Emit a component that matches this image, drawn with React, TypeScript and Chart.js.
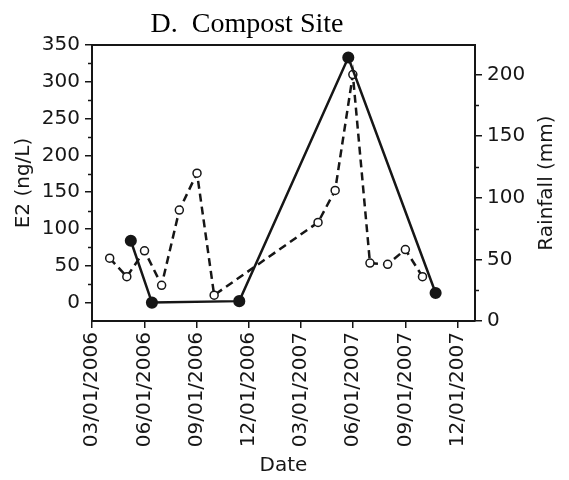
import React, { useEffect, useRef } from 'react';
import { Chart, registerables } from 'chart.js';

Chart.register(...registerables);

// E2 concentration samples (ng/L)
const e2Dates = ['05/08/2006', '06/14/2006', '11/14/2006', '05/24/2007', '10/24/2007'];
const e2Values = [84, 0, 2, 333, 13];

// Monthly rainfall totals (mm)
const rainDates = [
  '04/01/2006', '05/01/2006', '06/01/2006', '07/01/2006', '08/01/2006', '09/01/2006', '10/01/2006',
  '04/01/2007', '05/01/2007', '06/01/2007', '07/01/2007', '08/01/2007', '09/01/2007', '10/01/2007',
];
const rainValues = [51, 36, 57, 29, 90, 120, 21, 80, 106, 200, 47, 46, 58, 36];

// Axis ticks and ranges
const dateTicks = [
  '03/01/2006', '06/01/2006', '09/01/2006', '12/01/2006',
  '03/01/2007', '06/01/2007', '09/01/2007', '12/01/2007',
];
const dateStart = '03/01/2006';
const dateEnd = '01/01/2008';
const e2Ticks = [0, 50, 100, 150, 200, 250, 300, 350];
const e2Min = -25;
const e2Max = 350;
const rainTicks = [0, 50, 100, 150, 200];
const rainMax = 224;

const titleText = 'D.  Compost Site';
const rainTitle = 'Rainfall (mm)';

const INK = '#161616';
const FONT = "'DejaVu Sans', sans-serif";
const FONT_SIZE = 20;

const toDay = (s: string) => {
  const [m, d, y] = s.split('/').map(Number);
  return Date.UTC(y, m - 1, d) / 86400000;
};

const decorations = {
  id: 'decorations',
  afterDraw(chart: any) {
    const { ctx, chartArea: a, scales } = chart;
    ctx.save();
    // top edge of the frame
    ctx.strokeStyle = INK;
    ctx.lineWidth = 2;
    ctx.beginPath();
    ctx.moveTo(a.left - 1, a.top);
    ctx.lineTo(a.right + 1, a.top);
    ctx.stroke();

    // minor ticks halfway between major ticks
    ctx.lineWidth = 1.5;
    const minor = (scale: any, majors: number[], side: 'left' | 'right') => {
      const step = majors[1] - majors[0];
      const vals = majors.map((v) => v + step / 2).concat([majors[0] - step / 2]);
      vals.forEach((v) => {
        if (v <= scale.min || v >= scale.max) return;
        const y = Math.round(scale.getPixelForValue(v)) + 0.5;
        const x0 = side === 'left' ? a.left : a.right;
        const x1 = side === 'left' ? a.left - 4 : a.right + 4;
        ctx.beginPath();
        ctx.moveTo(x0, y);
        ctx.lineTo(x1, y);
        ctx.stroke();
      });
    };
    minor(scales.y, e2Ticks, 'left');
    minor(scales.y1, rainTicks, 'right');

    // right axis title, reading bottom to top
    ctx.fillStyle = INK;
    ctx.font = `${FONT_SIZE}px ${FONT}`;
    ctx.textAlign = 'center';
    ctx.textBaseline = 'middle';
    ctx.translate(547, (a.top + a.bottom) / 2);
    ctx.rotate(-Math.PI / 2);
    ctx.fillText(rainTitle, 0, 0);
    ctx.setTransform(1, 0, 0, 1, 0, 0);

    // chart title
    ctx.fillStyle = '#000';
    ctx.font = "28px 'Liberation Serif', serif";
    ctx.textAlign = 'center';
    ctx.textBaseline = 'alphabetic';
    ctx.fillText(titleText, 247, 32);
    ctx.restore();
  },
};

export default function App() {
  const canvasRef = useRef<HTMLCanvasElement | null>(null);

  useEffect(() => {
    if (!canvasRef.current) return;
    const tickFont = { family: FONT, size: FONT_SIZE };
    const chart = new Chart(canvasRef.current, {
      type: 'line',
      data: {
        datasets: [
          {
            label: 'Rainfall',
            data: rainDates.map((d, i) => ({ x: toDay(d), y: rainValues[i] })),
            yAxisID: 'y1',
            borderColor: INK,
            borderWidth: 2.5,
            borderDash: [8, 5],
            pointRadius: 4,
            pointBorderWidth: 1.5,
            pointBackgroundColor: '#fff',
            pointBorderColor: INK,
            tension: 0,
            order: 1,
          },
          {
            label: 'E2',
            data: e2Dates.map((d, i) => ({ x: toDay(d), y: e2Values[i] })),
            yAxisID: 'y',
            borderColor: INK,
            borderWidth: 2.5,
            pointRadius: 4.8,
            pointBackgroundColor: INK,
            pointBorderColor: INK,
            tension: 0,
            order: 0,
          },
        ],
      },
      options: {
        animation: false,
        responsive: true,
        maintainAspectRatio: false,
        layout: { padding: { top: 45, left: 0, right: 0, bottom: 0 } },
        plugins: {
          legend: { display: false },
          tooltip: { enabled: false },
          title: { display: false },
        },
        scales: {
          x: {
            type: 'linear',
            min: toDay(dateStart),
            max: toDay(dateEnd),
            afterBuildTicks: (s: any) => {
              s.ticks = dateTicks.map((d) => ({ value: toDay(d) }));
            },
            afterFit: (s: any) => {
              s.height = 159;
            },
            ticks: {
              autoSkip: false,
              minRotation: 90,
              maxRotation: 90,
              padding: 4,
              color: INK,
              font: tickFont,
              callback: (_v: any, i: number) => dateTicks[i],
            },
            grid: { drawOnChartArea: false, drawTicks: true, tickLength: 7, color: INK, lineWidth: 1.5 },
            border: { display: true, color: INK, width: 2 },
            title: { display: true, text: 'Date', color: INK, font: tickFont, padding: { top: 0, bottom: 2 } },
          },
          y: {
            type: 'linear',
            position: 'left',
            min: e2Min,
            max: e2Max,
            afterBuildTicks: (s: any) => {
              s.ticks = e2Ticks.map((v) => ({ value: v }));
            },
            afterFit: (s: any) => {
              s.width = 92;
            },
            ticks: { color: INK, font: tickFont, padding: 5 },
            grid: { drawOnChartArea: false, drawTicks: true, tickLength: 7, color: INK, lineWidth: 1.5 },
            border: { display: true, color: INK, width: 2 },
            title: { display: true, text: 'E2 (ng/L)', color: INK, font: tickFont, padding: { top: 12, bottom: 0 } },
          },
          y1: {
            type: 'linear',
            position: 'right',
            min: 0,
            max: rainMax,
            afterBuildTicks: (s: any) => {
              s.ticks = rainTicks.map((v) => ({ value: v }));
            },
            afterFit: (s: any) => {
              s.width = 94;
            },
            ticks: { color: INK, font: tickFont, padding: 5 },
            grid: { drawOnChartArea: false, drawTicks: true, tickLength: 7, color: INK, lineWidth: 1.5 },
            border: { display: true, color: INK, width: 2 },
            title: { display: false },
          },
        },
      },
      plugins: [decorations],
    } as any);
    return () => chart.destroy();
  }, []);

  return (
    <div style={{ position: 'absolute', left: 0, top: 0, width: 569, height: 480, background: '#fff' }}>
      <canvas ref={canvasRef} />
    </div>
  );
}
